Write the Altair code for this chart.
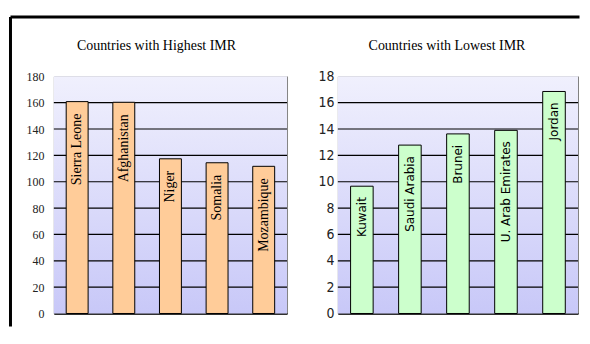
import altair as alt
import pandas as pd

# ---- data ----
high_countries = ["Sierra Leone", "Afghanistan", "Niger", "Somalia", "Mozambique"]
high_values = [160.8, 160.3, 117.4, 114.4, 111.7]
high_ticks = [0, 20, 40, 60, 80, 100, 120, 140, 160, 180]

low_countries = ["Kuwait", "Saudi Arabia", "Brunei", "U. Arab Emirates", "Jordan"]
low_values = [9.66, 12.78, 13.63, 13.9, 16.85]
low_ticks = [0, 2, 4, 6, 8, 10, 12, 14, 16, 18]

H = 238


def panel(countries, values, ticks, width, bar_color, label_font, label_size, label_pad,
          text_font, text_size, text_dx, title, title_dx, frame=False):
    df = pd.DataFrame({"country": countries, "value": values})
    grid_df = pd.DataFrame({"tick": ticks[1:-1]})
    ymax = ticks[-1]
    yscale = alt.Scale(domain=[0, ymax], nice=False, zero=True)
    xscale = alt.Scale(paddingInner=0.53, paddingOuter=0.265)
    yaxis = alt.Axis(values=ticks, grid=False, ticks=False, domain=False,
                     labelFont=label_font, labelFontSize=label_size,
                     labelOverlap=False, labelColor="#222", labelFlush=False,
                     labelPadding=label_pad, title=None)

    grad = alt.LinearGradient(
        gradient="linear",
        stops=[alt.GradientStop(offset=0, color="#F0F0FD"),
               alt.GradientStop(offset=1, color="#C8C8F8")],
        x1=0, x2=0, y1=0, y2=1,
    )
    one = alt.Data(values=[{"a": 1}])
    bg = alt.Chart(one).mark_rect(fill=grad, strokeWidth=0).encode(
        x=alt.value(0), x2=alt.value(width), y=alt.value(0), y2=alt.value(H)
    )
    grid = alt.Chart(grid_df).mark_rule(color="black", strokeWidth=1.2).encode(
        y=alt.Y("tick:Q", scale=yscale, axis=yaxis),
        x=alt.value(0), x2=alt.value(width),
    )
    bars = alt.Chart(df).mark_bar(color=bar_color, stroke="black", strokeWidth=1).encode(
        x=alt.X("country:N", sort=None, scale=xscale,
                axis=alt.Axis(labels=False, ticks=False, title=None, domain=True,
                              domainColor="black", domainWidth=1.5)),
        y=alt.Y("value:Q", scale=yscale, axis=yaxis),
    )
    labels = alt.Chart(df).mark_text(angle=270, align="right", baseline="middle",
                                     dx=text_dx, font=text_font, fontSize=text_size,
                                     color="black").encode(
        x=alt.X("country:N", sort=None, scale=xscale),
        y=alt.Y("value:Q", scale=yscale, axis=yaxis),
        text="country:N",
    )
    ttl = alt.Chart(alt.Data(values=[{"t": title}])).mark_text(
        font="Liberation Serif", fontSize=14, color="black", align="center",
        baseline="alphabetic"
    ).encode(x=alt.value(width / 2 + title_dx), y=alt.value(-26), text="t:N")
    layers = [bg, grid, bars, labels, ttl]
    if frame:
        top = alt.Chart(one).mark_rule(color="black", strokeWidth=3).encode(
            x=alt.value(-43.5), x2=alt.value(527.5), y=alt.value(-59.5)
        )
        left = alt.Chart(one).mark_rule(color="black", strokeWidth=3).encode(
            x=alt.value(-43.5), y=alt.value(-59.5), y2=alt.value(251)
        )
        layers += [top, left]
    return alt.layer(*layers).properties(width=width, height=H)


left_panel = panel(high_countries, high_values, high_ticks, 234, "#FFCC99",
                   "Liberation Serif", 12, 10, "Liberation Serif", 14, -12,
                   "Countries with Highest IMR", -14, frame=True)
right_panel = panel(low_countries, low_values, low_ticks, 241, "#CCFFCC",
                    "Liberation Sans Narrow, DejaVu Sans Condensed, sans-serif", 14, 4,
                    "DejaVu Sans", 12, -11, "Countries with Lowest IMR", -11)

chart = alt.hconcat(left_panel, right_panel, spacing=51, bounds="flush").properties(
    padding={"left": 0, "top": 6, "right": 0, "bottom": 0},
    background="white",
).configure_view(stroke="#808080", strokeWidth=1)

chart.save("out.html", embed_options={"renderer": "svg", "actions": False})
